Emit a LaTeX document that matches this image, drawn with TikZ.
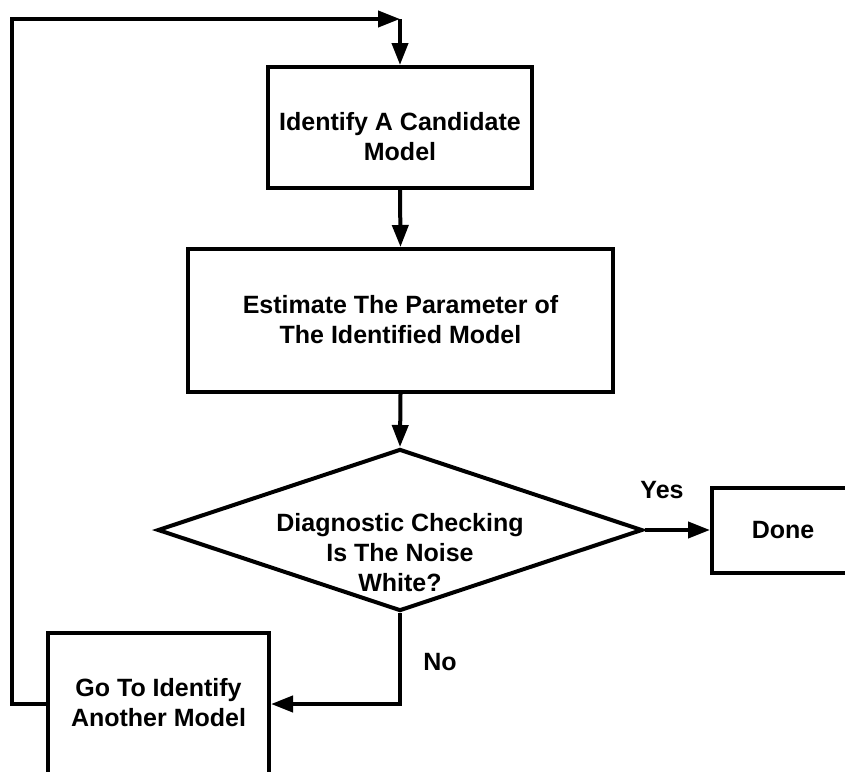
\documentclass[tikz,border=0pt]{standalone}
\usepackage{fontspec}
\setmainfont{Liberation Sans}
\usetikzlibrary{arrows.meta,shapes.geometric}
\tikzset{
  box/.style={draw, line width=4pt, inner sep=0pt, align=center},
  txt/.style={align=center, inner sep=0pt, font=\fontsize{25pt}{30pt}\selectfont\bfseries},
  conn/.style={line width=4pt, -{Triangle[length=22pt,width=16pt]}},
  plain/.style={line width=4pt}
}
\begin{document}
\begin{tikzpicture}[x=1pt,y=-1pt]
\useasboundingbox (0,0) rectangle (845,771);
\clip (0,0) rectangle (845,771);
% boxes
\node[box, minimum width=264pt, minimum height=121pt] (b1) at (400,127.5) {};
\node[txt] (b1t) at (400,137) {Identify A Candidate\\Model};
\node[box, minimum width=425pt, minimum height=143pt] (b2) at (400.5,320.5) {};
\node[txt] (b2t) at (400.5,320) {Estimate The Parameter of\\The Identified Model};
\node[diamond, draw, line width=4pt, inner sep=0pt, minimum width=485pt, minimum height=162pt] (dec) at (400,530) {};
\node[txt] (dect) at (400,553) {Diagnostic Checking\\Is The Noise\\White?};
\node[box, minimum width=142pt, minimum height=85pt] (done) at (783,530) {};
\node[txt] (donet) at (783,530) {Done};
\node[box, minimum width=221pt, minimum height=142pt] (b4) at (158.5,704) {};
\node[txt] (b4t) at (158.5,703) {Go To Identify\\Another Model};
% labels
\node[txt] (yes) at (662,490) {Yes};
\node[txt] (no) at (440,662) {No};
% coordinates
\coordinate (tl) at (12,19);
\coordinate (tr) at (400,19);
% connectors
\draw[conn] (b4.west) -| (tl) -- (tr);
\draw[conn] (tr) -- (b1.north);
\draw[conn] (b1.south) -- (b2.north);
\draw[conn] (b2.south) -- (dec.north);
\draw[conn] (dec.east) -- (done.west);
\draw[conn] (dec.south) |- (b4.east);
\end{tikzpicture}
\end{document}
